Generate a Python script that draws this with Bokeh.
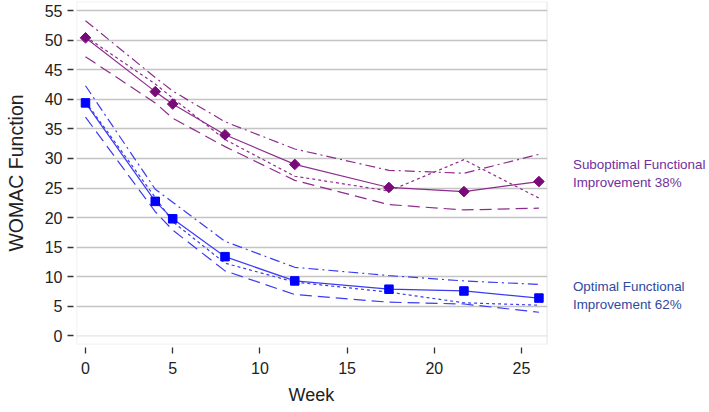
from bokeh.plotting import figure
from bokeh.models import Range1d, FixedTicker, Label, Span, BoxAnnotation, Title
from bokeh.embed import file_html
from bokeh.resources import INLINE
import math

# ---- data ----
weeks = [0, 4, 5, 8, 12, 17.4, 21.7, 26]

sub_mean = [50.4, 41.3, 39.2, 34.0, 29.0, 25.1, 24.4, 26.1]
sub_upper = [53.3, 43.7, 41.4, 36.2, 31.6, 28.0, 27.5, 30.7]
sub_lower = [47.2, 39.4, 36.8, 32.0, 26.3, 22.2, 21.3, 21.6]
sub_dotted = [50.6, 42.6, 40.2, 33.2, 27.0, 24.5, 29.8, 23.3]

opt_mean = [39.4, 22.75, 19.8, 13.4, 9.3, 7.9, 7.6, 6.4]
opt_upper = [42.3, 24.8, 22.6, 16.0, 11.6, 10.2, 9.3, 8.7]
opt_lower = [37.0, 21.0, 17.9, 11.0, 7.0, 5.7, 5.4, 4.0]
opt_dotted = [39.6, 23.4, 19.3, 12.3, 9.1, 7.4, 5.6, 5.2]

y_ticks = [0, 5, 10, 15, 20, 25, 30, 35, 40, 45, 50, 55]
x_ticks = [0, 5, 10, 15, 20, 25]

sub_text = ["Suboptimal Functional", "Improvement 38%"]
opt_text = ["Optimal Functional", "Improvement 62%"]

# axis extents (the visible plot box) and the label column to its right
X_START, X_BOX_END, X_CANVAS_END = -0.516, 26.47, 35.78
Y_START, Y_END = -1.45, 56.54
LABEL_X = 27.95
SUB_LABEL_Y = [29.0, 26.0]
OPT_LABEL_Y = [8.3, 5.35]

FONT = "Liberation Sans"
PURPLE_LINE = "#8E2C8E"
PURPLE_MARK = "#7A0A7A"
BLUE_LINE = "#3B3BF2"
BLUE_MARK = "#0000FF"
GRID = "#C4C4C4"

p = figure(width=709, height=412, output_backend="svg", toolbar_location=None,
           x_range=Range1d(X_START, X_CANVAS_END), y_range=Range1d(Y_START, Y_END),
           min_border_left=76, min_border_top=1, min_border_right=0,
           min_border_bottom=68)

p.outline_line_color = None
p.xgrid.grid_line_color = None
p.ygrid.ticker = FixedTicker(ticks=y_ticks[1:])
p.ygrid.grid_line_color = GRID
p.ygrid.grid_line_width = 1.4
p.add_layout(Span(location=y_ticks[0], dimension="width", line_color="#E6E6E6",
                  line_width=1.2, level="underlay"))

for ax in (p.xaxis[0], p.yaxis[0]):
    ax.axis_line_color = None
    ax.major_tick_line_color = "#333333"
    ax.major_tick_line_width = 1.3
    ax.minor_tick_line_color = None
    ax.major_tick_in = -3
    ax.major_tick_out = 9
    ax.major_label_text_font = FONT
    ax.major_label_text_font_size = "16px"
    ax.major_label_text_color = "#222222"
    ax.axis_label_text_font = FONT
    ax.axis_label_text_font_style = "normal"
    ax.axis_label_text_color = "#222222"

p.xaxis.ticker = FixedTicker(ticks=x_ticks)
p.yaxis.ticker = FixedTicker(ticks=y_ticks)
p.yaxis.major_label_standoff = 5
p.xaxis.major_label_standoff = 8
p.yaxis.axis_label = "WOMAC Function"
p.yaxis.axis_label_text_font_size = "19.5px"
p.yaxis.axis_label_standoff = 15

# x-axis title, centred under the visible plot box
p.add_layout(Title(text="Week", align="left", offset=212, standoff=12,
                   text_font=FONT, text_font_size="18px", text_font_style="normal",
                   text_color="#222222"), "below")

# blank out the area right of the plot box (keeps the label column clean)
p.add_layout(BoxAnnotation(left=X_BOX_END, fill_color="white", fill_alpha=1.0,
                           line_color=None, level="annotation"))
# plot box outline
p.add_layout(BoxAnnotation(right=X_BOX_END, fill_color=None, fill_alpha=0,
                           line_color=GRID, line_width=1.6, level="annotation"))

def group(mean, upper, lower, dotted, lcol, mcol, msize, angle):
    p.line(weeks, upper, line_color=lcol, line_width=1.2, line_dash="10 4 2 4")
    p.line(weeks, lower, line_color=lcol, line_width=1.2, line_dash="12 6")
    p.line(weeks, dotted, line_color=lcol, line_width=1.2, line_dash="3 3")
    p.line(weeks, mean, line_color=lcol, line_width=1.2)
    p.scatter(weeks, mean, marker="square", size=msize, angle=angle,
              fill_color=mcol, line_color=mcol)

group(sub_mean, sub_upper, sub_lower, sub_dotted, PURPLE_LINE, PURPLE_MARK, 7.5, math.pi / 4)
group(opt_mean, opt_upper, opt_lower, opt_dotted, BLUE_LINE, BLUE_MARK, 8.5, 0)

for txt, yv in zip(sub_text, SUB_LABEL_Y):
    p.add_layout(Label(x=LABEL_X, y=yv, text=txt, text_font=FONT, text_font_size="13.4px",
                       text_color="#7030A0", text_baseline="middle", text_align="left"))
for txt, yv in zip(opt_text, OPT_LABEL_Y):
    p.add_layout(Label(x=LABEL_X, y=yv, text=txt, text_font=FONT, text_font_size="13.4px",
                       text_color="#2E4A9E", text_baseline="middle", text_align="left"))

open("out.html", "w").write(file_html(p, INLINE))
